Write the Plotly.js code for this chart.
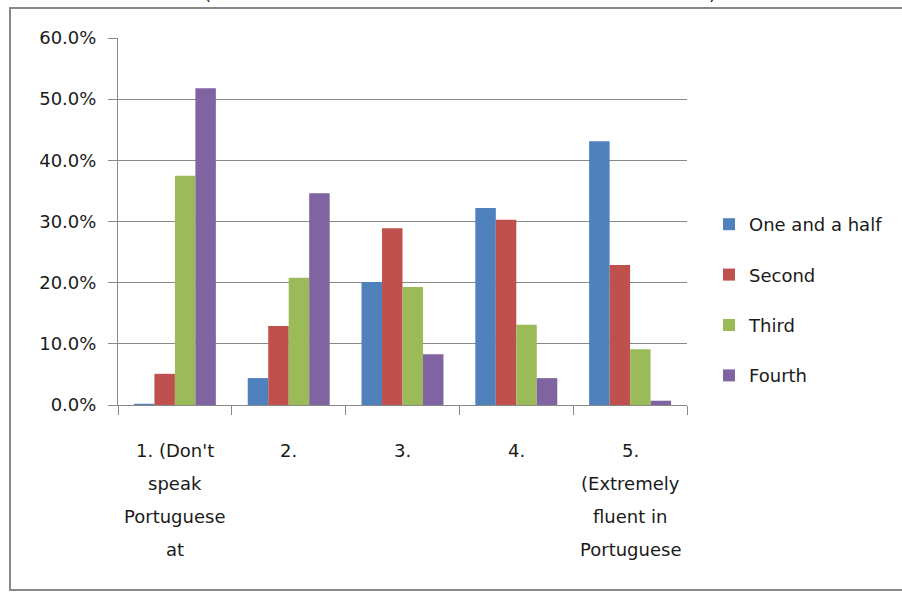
<!DOCTYPE html>
<html>
<head>
<meta charset="utf-8">
<script src="https://cdn.plot.ly/plotly-3.0.1.min.js"></script>
<style>html,body{margin:0;padding:0;background:#fff;}#chart{width:902px;height:592px;}</style>
</head>
<body>
<div id="chart"></div>
<script>
// Data
const categories = ["1. (Don't\nspeak\nPortuguese\nat", "2.", "3.", "4.", "5.\n(Extremely\nfluent in\nPortuguese"];
const seriesNames = ["One and a half", "Second", "Third", "Fourth"];
const oneAndAHalf = [0.2, 4.4, 20.1, 32.2, 43.1];
const second = [5.1, 12.9, 28.9, 30.3, 22.9];
const third = [37.5, 20.8, 19.3, 13.1, 9.1];
const fourth = [51.8, 34.6, 8.3, 4.4, 0.7];
const yTicks = [0, 10, 20, 30, 40, 50, 60];

const seriesValues = [oneAndAHalf, second, third, fourth];
const colors = ["#4F81BD", "#C0504D", "#9BBB59", "#8064A2"];
const FONT = "DejaVu Sans, sans-serif";
const TXT = "#1a1a1a";

const traces = seriesNames.map((name, i) => ({
  type: "bar",
  name: name,
  x: categories,
  y: seriesValues[i],
  legendgroup: "g" + i,
  marker: {color: colors[i], line: {width: 0}},
  hoverinfo: "skip"
}));

// category labels drawn line by line for Excel-like line spacing
const annotations = [];
categories.forEach((cat, ci) => {
  cat.split("\n").forEach((line, j) => {
    annotations.push({
      x: ci, xref: "x", y: 0, yref: "paper",
      yanchor: "top", xanchor: "center",
      yshift: -(33 + j * 33),
      text: line, showarrow: false,
      font: {family: FONT, size: 18, color: TXT}
    });
  });
});
// cut-off title fragments at the very top of the image (cut off in the reference too)
[["(", 207], [")", 712]].forEach(([t, px]) => {
  annotations.push({
    x: (px - 118) / 569, xref: "paper", y: (405 + 7) / 367, yref: "paper",
    xanchor: "center", yanchor: "middle", text: t, showarrow: false,
    font: {family: FONT, size: 18, color: TXT}
  });
});

const layout = {
  width: 902, height: 592,
  margin: {l: 118, r: 215, t: 38, b: 187, pad: 0, autoexpand: false},
  paper_bgcolor: "#fff", plot_bgcolor: "#fff",
  barmode: "group", bargap: 0.28, bargroupgap: 0,
  font: {family: FONT, size: 18, color: TXT},
  xaxis: {
    type: "category",
    showticklabels: false,
    ticks: "outside", tickson: "boundaries", ticklen: 9, tickcolor: "#888", tickwidth: 1,
    showline: true, linecolor: "#888", linewidth: 1,
    showgrid: false, zeroline: false, fixedrange: true
  },
  yaxis: {
    range: [0, 60], tickvals: yTicks, ticktext: yTicks.map(v => v.toFixed(1) + "%"),
    ticks: "outside", ticklen: 9, tickcolor: "#888", tickwidth: 1,
    ticklabelstandoff: 8,
    showline: true, linecolor: "#888", linewidth: 1,
    showgrid: true, gridcolor: "#888", gridwidth: 1,
    zeroline: false, fixedrange: true,
    tickfont: {family: FONT, size: 18, color: TXT}
  },
  showlegend: true,
  legend: {
    x: (709 - 118) / 569, xanchor: "left", y: (405 - 300) / 367, yanchor: "middle",
    font: {family: FONT, size: 18, color: TXT},
    tracegroupgap: 24, itemwidth: 30,
    bgcolor: "rgba(0,0,0,0)", traceorder: "grouped"
  },
  annotations: annotations,
  shapes: [{
    type: "rect", xref: "paper", yref: "paper",
    x0: (10 - 118) / 569, x1: (912 - 118) / 569,
    y0: (405 - 590) / 367, y1: (405 - 8) / 367,
    line: {color: "#888", width: 2}, fillcolor: "rgba(0,0,0,0)", layer: "below"
  }]
};

Plotly.newPlot("chart", traces, layout, {displayModeBar: false, staticPlot: true});
</script>
</body>
</html>
